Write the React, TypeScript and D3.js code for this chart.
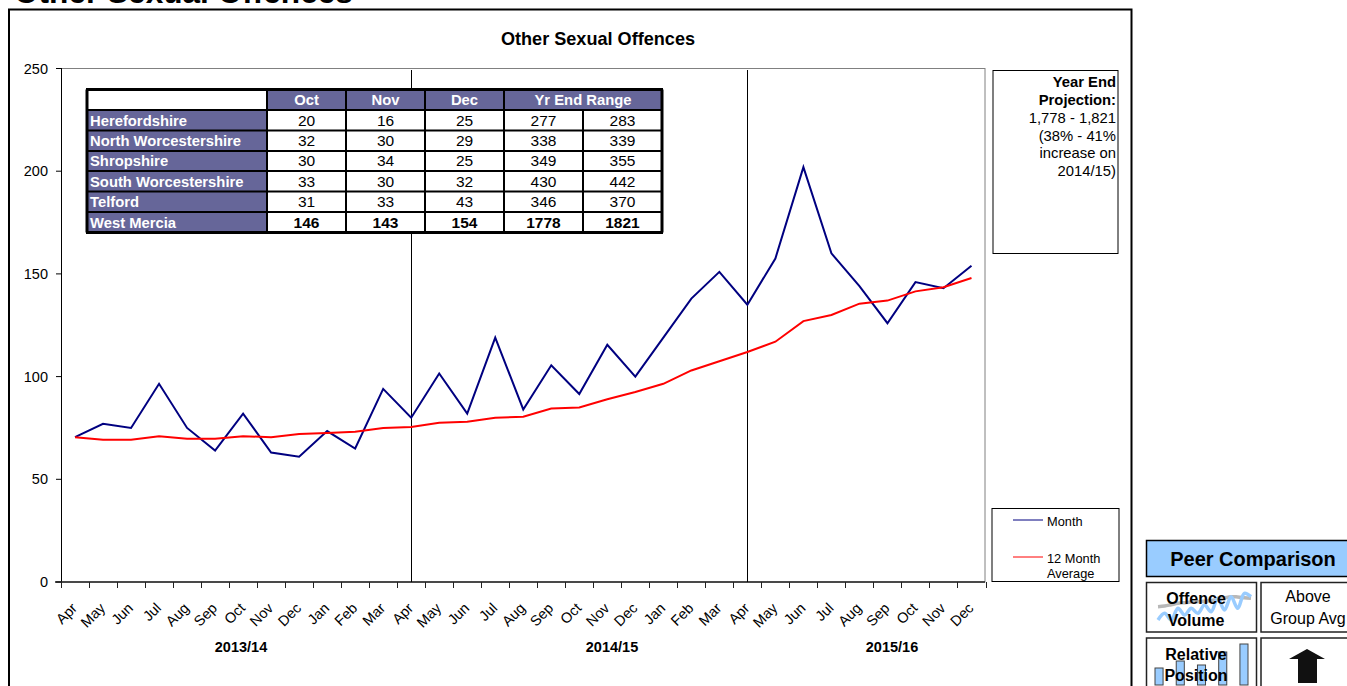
import React from "react";
import * as d3 from "d3";

const months = ["Apr","May","Jun","Jul","Aug","Sep","Oct","Nov","Dec","Jan","Feb","Mar","Apr","May","Jun","Jul","Aug","Sep","Oct","Nov","Dec","Jan","Feb","Mar","Apr","May","Jun","Jul","Aug","Sep","Oct","Nov","Dec"];
const monthly = [70.5,77,75,96.5,75,64,82,63,61,73.5,65,94,80,101.5,82,119,84,105.5,91.5,115.5,100,119,138,151,135,157.5,202,160,144,126,146,143,154];
const average = [70.5,69.3,69.3,71,69.8,69.8,71,70.5,72,72.5,73.2,75,75.5,77.5,78,80,80.5,84.5,85,89,92.5,96.5,103,107.5,112,117,127,130,135.5,137,141.5,143.5,148];
const yTicks = [0,50,100,150,200,250];
const yearDividers = [12,24];
const yearLabels = [{ label: "2013/14", x: 241 }, { label: "2014/15", x: 612 }, { label: "2015/16", x: 892 }];
const tableHead = ["Oct","Nov","Dec"];
const areas = ["Herefordshire","North Worcestershire","Shropshire","South Worcestershire","Telford","West Mercia"];
const areaRows = [[20,16,25,277,283],[32,30,29,338,339],[30,34,25,349,355],[33,30,32,430,442],[31,33,43,346,370],[146,143,154,1778,1821]];
const projection = ["1,778 - 1,821","(38% - 41%","increase on","2014/15)"];
const iconBlue = [6,26,6,41,21,41,26,51,31,71,36,76,41,86,76];
const iconGrey = [46,48,52,56,58,60,61,62,64,68,72,76,75,73,71];
const iconBars = [17,24,20,33,41];

const FONT = "'Liberation Sans', Arial, sans-serif";
const x = d3.scaleBand<number>().domain(d3.range(33)).range([61, 985.5]);
const cx = (i: number) => (x(i) as number) + x.bandwidth() / 2;
const y = d3.scaleLinear().domain([0, 250]).range([582, 68.5]);
const lineGen = d3.line<number>().x((_, i) => cx(i)).y(d => y(d));
const colX = [87, 267, 346, 425, 504, 583, 662];
const rowY = [89.5, 110, 130.5, 151, 171, 191.5, 212, 232.5];
const rowBase = [125.5, 146, 166, 186.7, 206.8, 227.7];
const PURPLE = "#666699";

export default function App() {
  const iconX = d3.scaleLinear().domain([0, 14]).range([1158, 1251]);
  const iconY = d3.scaleLinear().domain([0, 126]).range([622, 580]);
  const iconLine = d3.line<number>().x((_, i) => iconX(i)).y(d => iconY(d)).curve(d3.curveCatmullRom);
  const barX = d3.scaleBand<number>().domain(d3.range(5)).range([1155, 1248]).paddingInner(0.62);
  return (
    <svg width={1347} height={686} style={{ position: "fixed", left: 0, top: 0, background: "#fff", fontFamily: FONT }}>
      <text x={14} y={3} fontSize={31.6} fontWeight="bold" fill="#000">Other Sexual Offences</text>
      <rect x={9} y={9.5} width={1122.5} height={700} fill="#fff" stroke="#000" strokeWidth={2} />
      <text x={598} y={45} textAnchor="middle" fontSize={18.1} fontWeight="bold">Other Sexual Offences</text>

      <rect x={61.5} y={68.5} width={923.5} height={513.5} fill="#fff" stroke="#808080" strokeWidth={1} />
      <line x1={61.5} x2={61.5} y1={68} y2={582} stroke="#000" />
      <line x1={55} x2={985} y1={582} y2={582} stroke="#222" strokeWidth={1.6} />
      {yTicks.map(t => (
        <g key={t}>
          <line x1={56} x2={61} y1={y(t)} y2={y(t)} stroke="#000" />
          <text x={48} y={y(t) + 5} textAnchor="end" fontSize={14.5}>{t}</text>
        </g>
      ))}
      {d3.range(34).map(i => {
        const tx = Math.round(61 + i * x.bandwidth()) + 0.5;
        return <line key={i} x1={tx} x2={tx} y1={582} y2={588} stroke="#222" />;
      })}
      {months.map((m, i) => (
        <text key={i} transform={`translate(${cx(i) + 3},${609}) rotate(-45)`} textAnchor="end" fontSize={14.5}>{m}</text>
      ))}
      {yearLabels.map(l => (
        <text key={l.label} x={l.x} y={652} textAnchor="middle" fontSize={14.5} fontWeight="bold">{l.label}</text>
      ))}
      {yearDividers.map(i => (
        <line key={i} x1={Math.round(cx(i)) + 0.5} x2={Math.round(cx(i)) + 0.5} y1={70} y2={582} stroke="#000" />
      ))}
      <path d={lineGen(monthly) as string} fill="none" stroke="#000080" strokeWidth={2} />
      <path d={lineGen(average) as string} fill="none" stroke="#FF0000" strokeWidth={2} />

      {/* table */}
      <rect x={colX[0]} y={rowY[0]} width={colX[6] - colX[0]} height={rowY[7] - rowY[0]} fill="#fff" />
      {tableHead.map((h, i) => (
        <g key={h}>
          <rect x={colX[i + 1]} y={rowY[0]} width={colX[i + 2] - colX[i + 1]} height={rowY[1] - rowY[0]} fill={PURPLE} />
          <text x={(colX[i + 1] + colX[i + 2]) / 2} y={105} textAnchor="middle" fontSize={14.8} fontWeight="bold" fill="#fff">{h}</text>
        </g>
      ))}
      <rect x={colX[4]} y={rowY[0]} width={colX[6] - colX[4]} height={rowY[1] - rowY[0]} fill={PURPLE} />
      <text x={(colX[4] + colX[6]) / 2} y={105} textAnchor="middle" fontSize={14.8} fontWeight="bold" fill="#fff">Yr End Range</text>
      {areas.map((a, r) => (
        <g key={a}>
          <rect x={colX[0]} y={rowY[r + 1]} width={colX[1] - colX[0]} height={rowY[r + 2] - rowY[r + 1]} fill={PURPLE} />
          <text x={90} y={rowBase[r]} fontSize={14.8} fontWeight="bold" fill="#fff">{a}</text>
          {areaRows[r].map((v, c) => (
            <text key={c} x={(colX[c + 1] + colX[c + 2]) / 2} y={rowBase[r]} textAnchor="middle" fontSize={15.5} fontWeight={r === 5 ? "bold" : "normal"}>{v}</text>
          ))}
        </g>
      ))}
      {rowY.map((ry, i) => <line key={i} x1={colX[0] - 1} x2={colX[6] + 1} y1={ry} y2={ry} stroke="#000" strokeWidth={i === 0 || i === 7 ? 3 : 2} />)}
      {colX.map((cxv, i) => <line key={i} x1={cxv} x2={cxv} y1={i === 5 ? rowY[1] : rowY[0]} y2={rowY[7]} stroke="#000" strokeWidth={i === 0 || i === 6 ? 3 : 2} />)}

      {/* projection */}
      <rect x={993} y={70.5} width={125} height={183} fill="#fff" stroke="#000" />
      <text x={1116} y={87} textAnchor="end" fontSize={14.8} fontWeight="bold">Year End</text>
      <text x={1116} y={105} textAnchor="end" fontSize={14.8} fontWeight="bold">Projection:</text>
      {projection.map((p, i) => (
        <text key={i} x={1116} y={123 + i * 17.5} textAnchor="end" fontSize={14.8}>{p}</text>
      ))}

      {/* legend */}
      <rect x={992} y={508.5} width={127} height={73} fill="#fff" stroke="#000" />
      <line x1={1013} x2={1043} y1={520} y2={520} stroke="#000080" strokeWidth={1} />
      <text x={1047} y={526} fontSize={12.8}>Month</text>
      <line x1={1013} x2={1043} y1={557} y2={557} stroke="#FF0000" strokeWidth={1} />
      <text x={1047} y={563} fontSize={12.8}>12 Month</text>
      <text x={1047} y={578} fontSize={12.8}>Average</text>

      {/* peer comparison */}
      <rect x={1146.5} y={540.5} width={220} height={36} fill="#99CCFF" stroke="#000" strokeWidth={1.5} />
      <text x={1253} y={566} textAnchor="middle" fontSize={20} fontWeight="bold">Peer Comparison</text>
      <rect x={1146.5} y={582.5} width={110} height={49.5} fill="#fff" stroke="#222" strokeWidth={1.5} />
      <rect x={1261} y={582.5} width={110} height={49.5} fill="#fff" stroke="#222" strokeWidth={1.5} />
      <rect x={1146.5} y={638} width={110} height={70} fill="#fff" stroke="#222" strokeWidth={1.5} />
      <rect x={1261} y={638} width={110} height={70} fill="#fff" stroke="#222" strokeWidth={1.5} />
      <path d={iconLine(iconGrey) as string} fill="none" stroke="#B8B8B8" strokeWidth={3.5} />
      <path d={iconLine(iconBlue) as string} fill="none" stroke="#99CCFF" strokeWidth={3.5} />
      <text x={1196} y={603.5} textAnchor="middle" fontSize={16} fontWeight="bold">Offence</text>
      <text x={1196} y={625.5} textAnchor="middle" fontSize={16} fontWeight="bold">Volume</text>
      <text x={1308} y={602} textAnchor="middle" fontSize={16}>Above</text>
      <text x={1308} y={624} textAnchor="middle" fontSize={16}>Group Avg</text>
      {iconBars.map((b, i) => (
        <rect key={i} x={barX(i)} y={685 - b} width={barX.bandwidth()} height={b} fill="#99CCFF" stroke="#444" />
      ))}
      <text x={1196} y={659.5} textAnchor="middle" fontSize={16} fontWeight="bold">Relative</text>
      <text x={1196} y={681} textAnchor="middle" fontSize={16} fontWeight="bold">Position</text>
      <path d={d3.line()([[1307,649],[1325,659],[1317,659],[1317,683],[1298,683],[1298,659],[1289,659]]) + "Z"} fill="#111" />
    </svg>
  );
}
